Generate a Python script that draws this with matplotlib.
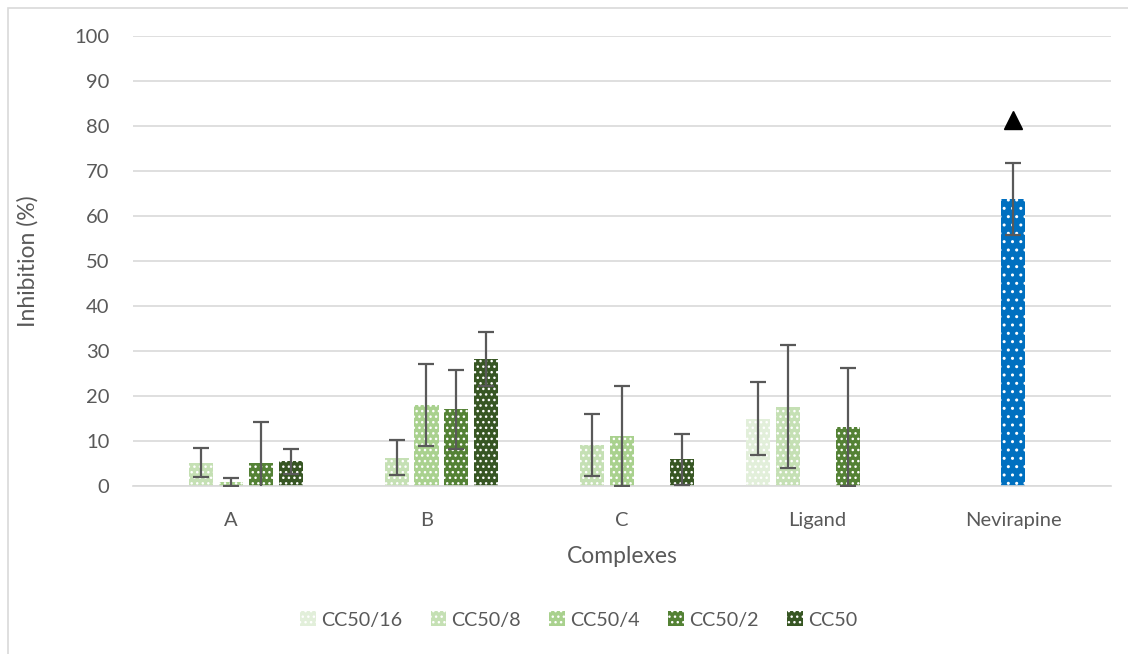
import matplotlib.pyplot as plt
import matplotlib.patches as mpatches
import numpy as np

plt.rcParams['font.family'] = ['Lato', 'DejaVu Sans']
plt.rcParams['hatch.linewidth'] = 1.0

categories = ['A', 'B', 'C', 'Ligand', 'Nevirapine']
series = ['CC50/16', 'CC50/8', 'CC50/4', 'CC50/2', 'CC50']
colors = ['#E2EFDA', '#C5E0B4', '#A9D18E', '#548235', '#375623']

# 0 = no bar for that concentration
values = {
    'CC50/16': [0, 0, 0, 14.9, 0],
    'CC50/8': [5.2, 6.3, 9.0, 17.6, 0],
    'CC50/4': [0.8, 18.0, 11.1, 0, 63.8],
    'CC50/2': [5.1, 17.0, 0, 13.0, 0],
    'CC50': [5.5, 28.2, 5.9, 0, 0],
}
errors = {
    'CC50/16': [0, 0, 0, 8.1, 0],
    'CC50/8': [3.2, 3.8, 6.9, 13.7, 0],
    'CC50/4': [0.9, 9.1, 11.1, 0, 8.0],
    'CC50/2': [9.1, 8.8, 0, 13.1, 0],
    'CC50': [2.8, 5.9, 5.6, 0, 0],
}
nevirapine_color = '#0070C0'
marker_value = 81.3  # triangle above Nevirapine

fig = plt.figure(figsize=(11.28, 6.54), dpi=100)
ax = fig.add_axes([0.118, 0.257, 0.867, 0.688])

# chart border (top/left visible)
fig.patches.append(mpatches.Rectangle((8 / 1128, -0.1), 1.2, 1 - 8 / 654 + 0.1,
                                      transform=fig.transFigure, fill=False,
                                      edgecolor='#D9D9D9', linewidth=1.2))

x = np.arange(len(categories))
slot = 0.153
width = 0.123

for i, s in enumerate(series):
    pos = x + (i - 2) * slot
    for j in range(len(categories)):
        v = values[s][j]
        if v == 0:
            continue
        fc = colors[i]
        hatch = '...'
        if categories[j] == 'Nevirapine':
            fc = nevirapine_color
            hatch = '..'
        ax.bar(pos[j], v, width, color=fc, edgecolor='white', hatch=hatch,
               linewidth=0, zorder=2)
        ax.errorbar(pos[j], v, yerr=errors[s][j], color='#595959', elinewidth=1.6,
                    capsize=6, capthick=1.6, zorder=3)

ax.plot(x[4], marker_value, marker='^', color='black', markersize=13, zorder=4)

handles = [mpatches.Patch(facecolor=c, edgecolor='white', hatch='...', linewidth=0)
           for c in colors]
fig.legend(handles, series, loc='center', bbox_to_anchor=(0.513, 0.052), ncol=5,
           frameon=False, fontsize=14.2, handlelength=0.8, handleheight=0.8,
           handletextpad=0.25, columnspacing=1.45, labelcolor='#595959')

ax.set_ylim(0, 100)
ax.set_xlim(-0.5, 4.5)
ax.set_yticks(range(0, 101, 10))
ax.set_xticks(x)
ax.set_xticklabels(categories)
ax.grid(axis='y', color='#D9D9D9', linewidth=1.2, zorder=0)
ax.set_axisbelow(True)
for sp in ['top', 'right', 'left']:
    ax.spines[sp].set_visible(False)
ax.spines['bottom'].set_color('#D9D9D9')
ax.spines['bottom'].set_linewidth(1.2)
ax.tick_params(length=0, labelsize=14.5, colors='#595959')
ax.tick_params(axis='x', pad=19)
ax.tick_params(axis='y', pad=17)
ax.set_xlabel('Complexes', fontsize=16.5, color='#595959', labelpad=12)
ax.set_ylabel('Inhibition (%)', fontsize=16.5, color='#595959', labelpad=26)

fig.savefig('out.png', dpi=100)
